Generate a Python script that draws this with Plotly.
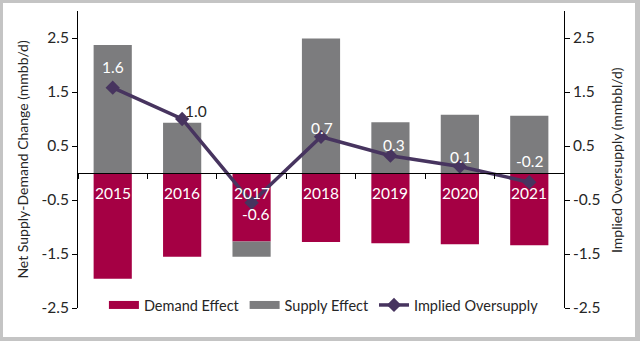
import plotly.graph_objects as go

years = ["2015", "2016", "2017", "2018", "2019", "2020", "2021"]
demand_effect = [-1.96, -1.55, -1.27, -1.28, -1.30, -1.32, -1.34]
supply_effect = [2.37, 0.93, -0.28, 2.49, 0.94, 1.08, 1.06]
implied_oversupply = [1.58, 1.00, -0.55, 0.67, 0.32, 0.12, -0.17]
implied_labels = ["1.6", "1.0", "-0.6", "0.7", "0.3", "0.1", "-0.2"]
tick_values = [-2.5, -1.5, -0.5, 0.5, 1.5, 2.5]
tick_labels = ["-2.5", "-1.5", "-0.5", "0.5", "1.5", "2.5"]

# label styling (offsets in px, colours)
label_xshift = [0, 14, 4, 1, 4, 1, 0]
label_yshift = [21, 8, -11, 9, 11, 10, 21]
label_colors = ["white", "#262626", "white", "white", "white", "white", "white"]

RED = "#A50044"
GRAY = "#7c7c7e"
PURPLE = "#47345f"
FONT = "Lato"
TXT = "#262626"

fig = go.Figure()
fig.add_trace(go.Bar(x=years, y=demand_effect, marker_color=RED, name="Demand Effect",
                     showlegend=False, marker_line_width=0))
fig.add_trace(go.Bar(x=years, y=supply_effect, marker_color=GRAY, name="Supply Effect",
                     showlegend=False, marker_line_width=0))
# legend-only entries with wide rectangles
fig.add_trace(go.Scatter(x=[years[0]], y=[None], mode="lines", line=dict(color=RED, width=8),
                         name="Demand Effect"))
fig.add_trace(go.Scatter(x=[years[0]], y=[None], mode="lines", line=dict(color=GRAY, width=8),
                         name="Supply Effect"))
fig.add_trace(go.Scatter(x=years, y=implied_oversupply, mode="lines+markers", yaxis="y2",
                         line=dict(color=PURPLE, width=3.5),
                         marker=dict(symbol="diamond", size=11, color=PURPLE),
                         name="Implied Oversupply"))

ann = []
for i, (v, t, dx, dy, c) in enumerate(zip(implied_oversupply, implied_labels,
                                          label_xshift, label_yshift, label_colors)):
    ann.append(dict(x=i, y=v, xref="x", yref="y2", text=t, showarrow=False,
                    xshift=dx, yshift=dy, font=dict(family=FONT, size=15.5, color=c)))
for i, yr in enumerate(years):
    ann.append(dict(x=i, y=0, xref="x", yref="y", text=yr, showarrow=False,
                    yshift=-20, font=dict(family=FONT, size=15.5, color="white")))
ann.append(dict(x=-0.115, y=0.5, xref="paper", yref="paper", text="Net Supply-Demand Change (mmbb/d)",
                textangle=-90, showarrow=False, xanchor="center", yanchor="middle",
                font=dict(family=FONT, size=14, color=TXT)))
ann.append(dict(x=1.108, y=0.5, xref="paper", yref="paper", text="Implied Oversupply (mmbbl/d)",
                textangle=-90, showarrow=False, xanchor="center", yanchor="middle",
                font=dict(family=FONT, size=14, color=TXT)))

yax = dict(range=[-2.5, 3.0], tickvals=tick_values, ticktext=tick_labels, showgrid=False,
           zeroline=False, showline=True, linecolor="black", linewidth=1, ticks="outside",
           ticklen=5, tickcolor="black", tickfont=dict(family=FONT, size=15.5, color=TXT),
           fixedrange=True)

fig.update_layout(
    width=640, height=341,
    margin=dict(l=78, r=76, t=11, b=33),
    paper_bgcolor="#c4c4c4", plot_bgcolor="white",
    barmode="relative", bargap=0.45,
    xaxis=dict(type="category", categoryorder="array", categoryarray=years,
               range=[-0.5, len(years) - 0.5], autorange=False,
               anchor="free", position=2.5 / 5.5, showline=True,
               linecolor="black", linewidth=1, ticks="outside", tickson="boundaries",
               ticklen=5, tickcolor="black", showticklabels=False, showgrid=False),
    yaxis=yax,
    yaxis2=dict(yax, overlaying="y", side="right"),
    legend=dict(orientation="h", x=0.506, xanchor="center", y=0.01, yanchor="middle",
                font=dict(family=FONT, size=14.5, color=TXT), bgcolor="rgba(0,0,0,0)",
                itemwidth=30, tracegroupgap=0),
    annotations=ann,
    shapes=[dict(type="rect", xref="paper", yref="paper", layer="below",
                 x0=(3 - 78) / 486, x1=(635 - 78) / 486,
                 y0=(308 - 337) / 297, y1=(308 - 3) / 297,
                 fillcolor="white", line_width=0)],
    showlegend=True,
)

fig.write_html("out.html")
